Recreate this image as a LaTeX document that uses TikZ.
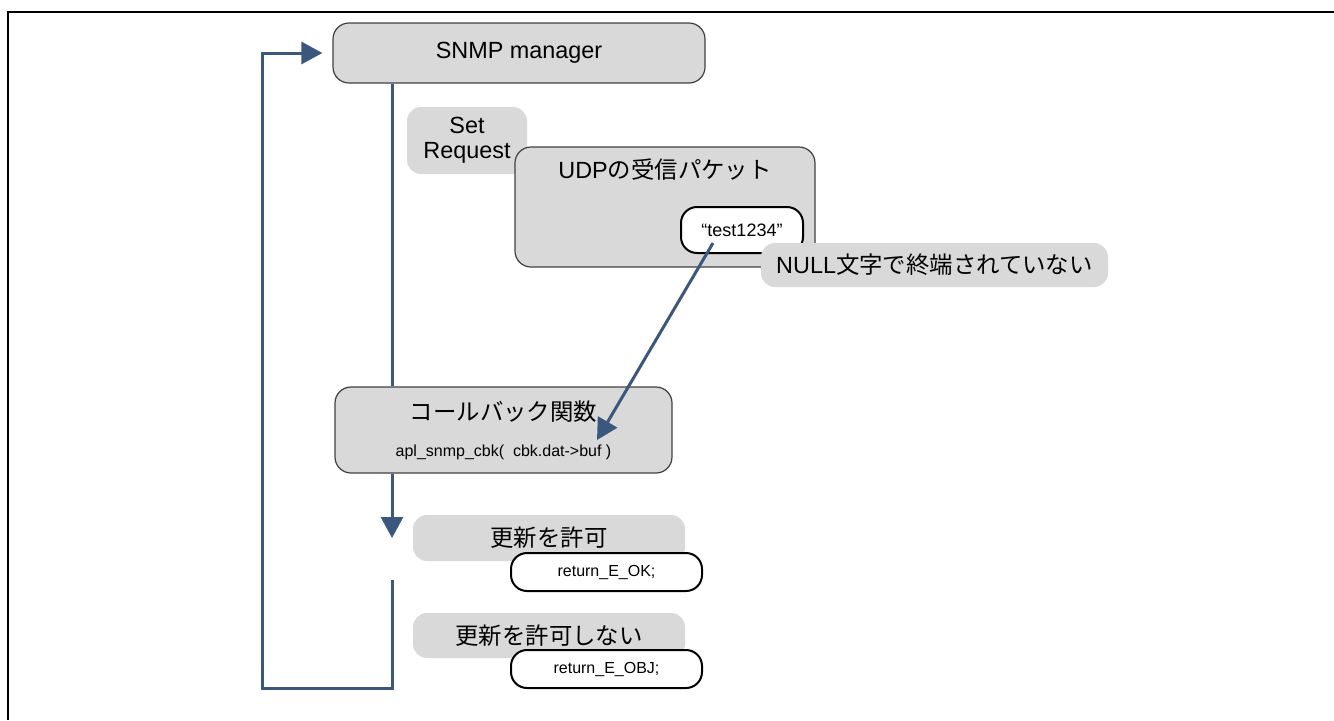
\documentclass[tikz,border=0pt]{standalone}
\usepackage{fontspec}
\setmainfont{Liberation Sans}
\newfontfamily\jp{Noto Sans CJK JP}
\usetikzlibrary{arrows.meta}

\definecolor{boxgray}{RGB}{217,217,217}
\definecolor{edgegray}{RGB}{64,64,64}
\definecolor{flowblue}{RGB}{59,87,125}

\begin{document}
\begin{tikzpicture}[x=0.5pt, y=-0.5pt,
  bigtext/.style={font=\fontsize{11.7}{12.5}\selectfont},
  smalltext/.style={font=\fontsize{8}{9}\selectfont},
  graybox/.style={draw=edgegray, line width=0.6pt, fill=boxgray, rounded corners=8pt, inner sep=0pt, bigtext},
  tagbox/.style={fill=boxgray, rounded corners=7pt, inner sep=0pt, bigtext},
  codebox/.style={draw=black, line width=1pt, fill=white, rounded corners=8pt, inner sep=0pt, smalltext},
  flow/.style={draw=flowblue, line width=1.5pt},
  flowarrow/.style={-{Triangle[length=10.5pt,width=11pt]}}
]

  % Page size, same as the reference
  \useasboundingbox (0,0) rectangle (1334,720);

  % Frame (only its top and left edges are inside the page)
  \draw[line width=0.9pt] (8,720) -- (8,12) -- (1334,12);

  % The manager
  \node[graybox, minimum width=186pt, minimum height=30pt] (snmp) at (519,53) {SNMP manager};

  % Request tag, sits behind the packet
  \node[tagbox, align=center, minimum width=60pt, minimum height=33.5pt] (setreq) at (467,140.5) {Set\\Request};

  % Received packet with the string inside
  \node[graybox, minimum width=150pt, minimum height=60pt,
    label={[bigtext, anchor=center, yshift=-11.5pt]north:{UDP{\jp の受信パケット}}}] (udp) at (665,207) {};
  \node[codebox, minimum width=61pt, minimum height=23pt, font=\fontsize{9}{10}\selectfont] (str) at (742,230) {“test1234”};

  % Callback function
  \node[graybox, minimum width=168.5pt, minimum height=43pt,
    label={[bigtext, anchor=center, yshift=-12.5pt]north:{\jp コールバック関数}},
    label={[smalltext, anchor=center, yshift=10.5pt]south:{apl\_snmp\_cbk(~~cbk.dat->buf )}}] (cbk) at (503.5,430) {};

  % String handed over to the callback
  \draw[flow, flowarrow] ([xshift=-14.5pt, yshift=-6.5pt]str.center) -- ([xshift=46.75pt, yshift=-5pt]cbk.center);

  % Note on the string
  \node[tagbox, minimum width=173.5pt, minimum height=22pt] (nonull) at (934.5,265) {NULL{\jp 文字で終端されていない}};

  % Main line from the manager down to the callback
  \coordinate (trunk) at (392,0);
  \coordinate (split) at (392,538);
  \draw[flow] (snmp.south -| trunk) -- (cbk.north -| trunk);
  \draw[flow, flowarrow] (cbk.south -| trunk) -- (split);

  % Results of the callback
  \node[tagbox, minimum width=136pt, minimum height=23pt] (ok) at (549,538) {\jp 更新を許可};
  \node[codebox, minimum width=95.5pt, minimum height=19pt] (okret) at (606.5,572) {return\_E\_OK;};
  \node[tagbox, minimum width=136pt, minimum height=22.5pt] (ng) at (549,635.5) {\jp 更新を許可しない};
  \node[codebox, minimum width=95.5pt, minimum height=19pt] (ngret) at (606.5,669) {return\_E\_OBJ;};

  % Back to the manager
  \coordinate (loopstart) at (392,580);
  \coordinate (loopcorner) at (262,688);
  \draw[flow, flowarrow, shorten >=5pt] (loopstart) |- (loopcorner) |- (snmp.west);

\end{tikzpicture}
\end{document}
